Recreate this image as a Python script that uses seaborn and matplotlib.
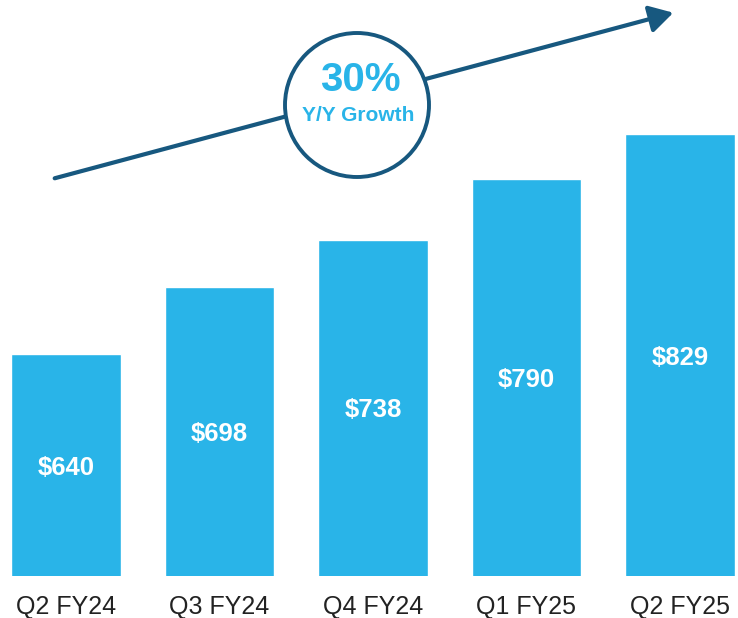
import matplotlib
matplotlib.use("Agg")
import matplotlib.pyplot as plt
import seaborn as sns
import pandas as pd
from matplotlib.patches import Ellipse, FancyArrowPatch

quarters = ["Q2 FY24", "Q3 FY24", "Q4 FY24", "Q1 FY25", "Q2 FY25"]
values = [640, 698, 738, 790, 829]
value_labels = ["$640", "$698", "$738", "$790", "$829"]
growth_text = "30%"
growth_sub = "Y/Y Growth"

BAR = "#29B4E8"
DARK = "#17587F"

sns.set_theme(style="white")
plt.rcParams["font.family"] = ["Liberation Sans", "DejaVu Sans"]

W, H = 738, 618
fig = plt.figure(figsize=(W / 100, H / 100), dpi=100)
ax = fig.add_axes([0, (H - 576) / H, 1, 576 / H])

df = pd.DataFrame({"quarter": quarters, "value": values})
sns.barplot(data=df, x="quarter", y="value", color=BAR, saturation=1,
            width=0.715, ax=ax)

ymin = 449.3
ymax = ymin + 576 / 1.164
ax.set_ylim(ymin, ymax)
ax.set_xlim(-0.43, 4.378)

for i, (v, lab) in enumerate(zip(values, value_labels)):
    ax.text(i, (ymin + v) / 2, lab, ha="center", va="center_baseline", color="white",
            fontsize=18.5, fontweight="bold")

for s in ax.spines.values():
    s.set_visible(False)
ax.set_yticks([])
ax.set_xlabel("")
ax.set_ylabel("")
ax.tick_params(axis="x", length=0, pad=14, labelsize=18, labelcolor="#222222")


def fx(x):
    return x / W


def fy(y):
    return 1 - y / H


arrow = FancyArrowPatch((fx(52), fy(179)), (fx(676), fy(12)),
                        transform=fig.transFigure, arrowstyle="-|>,head_length=1.3,head_width=0.75",
                        mutation_scale=11, color=DARK, lw=3.0, zorder=5)
fig.add_artist(arrow)

circ = Ellipse((fx(357), fy(105)), 2 * 72 / W, 2 * 72 / H, transform=fig.transFigure,
               facecolor="white", edgecolor=DARK, lw=2.8, zorder=6)
fig.add_artist(circ)

fig.text(fx(360), fy(80), growth_text, ha="center", va="center", color=BAR,
         fontsize=29, fontweight="bold", zorder=7)
fig.text(fx(358), fy(115), growth_sub, ha="center", va="center", color=BAR,
         fontsize=15, fontweight="bold", zorder=7)

fig.savefig("out.png", dpi=100)
